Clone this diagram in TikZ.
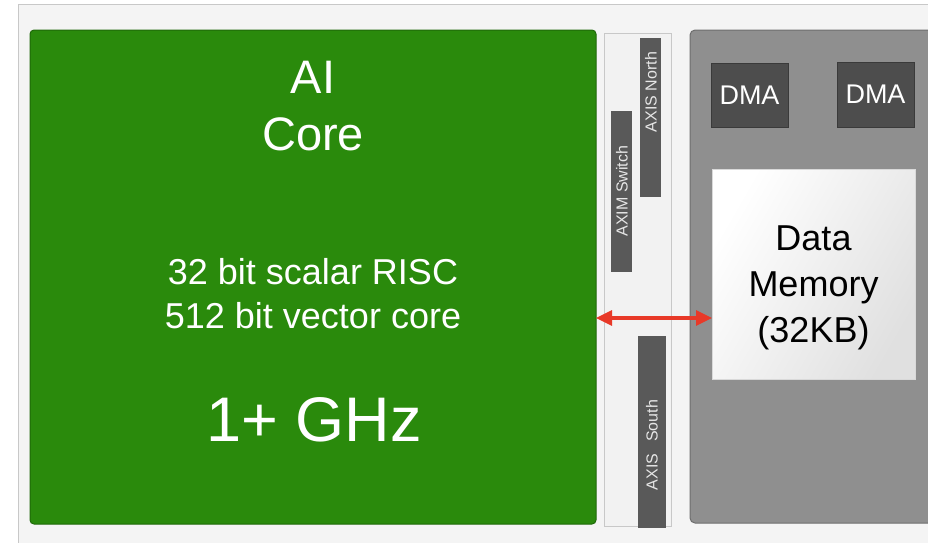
\documentclass[tikz,border=0pt]{standalone}
\usepackage{fontspec}
\setmainfont{Liberation Sans}
\usetikzlibrary{arrows.meta}
\definecolor{bgc}{RGB}{244,244,244}
\definecolor{framec}{RGB}{200,200,200}
\definecolor{greenc}{RGB}{42,138,12}
\definecolor{greend}{RGB}{30,105,8}
\definecolor{stripc}{RGB}{242,242,242}
\definecolor{barc}{RGB}{89,89,89}
\definecolor{grayc}{RGB}{143,143,143}
\definecolor{grayd}{RGB}{110,110,110}
\definecolor{dmac}{RGB}{77,77,77}
\definecolor{dmad}{RGB}{58,58,58}
\definecolor{redc}{RGB}{232,57,40}
\definecolor{bartext}{RGB}{230,230,230}
\tikzset{
  box/.style={draw, inner sep=0pt, outer sep=0pt, line width=1pt},
  greenbox/.style={box, fill=greenc, draw=greend, rounded corners=4pt},
  stripbox/.style={box, fill=stripc, draw=framec},
  barbox/.style={box, fill=barc, draw=barc},
  graybox/.style={box, fill=grayc, draw=grayd, rounded corners=5pt},
  dmabox/.style={box, fill=dmac, draw=dmad, text=white, font=\fontsize{27}{32}\selectfont},
  membox/.style={box, draw=white!85!black, left color=white, right color=white!88!black, shading angle=60},
  memtxt/.style={align=center, inner sep=0pt, font=\fontsize{36}{46}\selectfont},
  bartxt/.style={text=bartext, rotate=90, font=\fontsize{16}{18}\selectfont, inner sep=0pt},
  wtxt/.style={text=white, align=center, inner sep=0pt},
}
\begin{document}
\begin{tikzpicture}[x=1pt,y=-1pt]
\useasboundingbox (0,0) rectangle (928,542);
\fill[white] (0,0) rectangle (928,542);
\draw[fill=bgc, draw=framec, line width=1pt] (18,4) rectangle (960,580);
% green core
\node[greenbox, minimum width=566pt, minimum height=494pt] (core) at (313,277) {};
\node[wtxt, font=\fontsize{47}{57}\selectfont] (ai) at (313,106) {AI\\Core};
\node[wtxt, font=\fontsize{36}{44}\selectfont] (spec) at (313,294) {32 bit scalar RISC\\512 bit vector core};
\node[wtxt, font=\fontsize{63}{70}\selectfont] (ghz) at (314,420) {1+ GHz};
% middle strip
\node[stripbox, minimum width=67pt, minimum height=493pt] (strip) at (637.5,279.5) {};
\node[barbox, minimum width=20pt, minimum height=158pt] (north) at (650,117) {};
\node[bartxt] (northt) at (651,92) {AXIS North};
\node[barbox, minimum width=20pt, minimum height=160pt] (axim) at (621,191) {};
\node[bartxt] (aximt) at (622,191) {AXIM Switch};
\node[barbox, minimum width=27pt, minimum height=191pt] (south) at (651.5,431.5) {};
\node[bartxt] (southt) at (652,445) {AXIS\hspace{12pt}South};
% memory tile
\node[graybox, minimum width=260pt, minimum height=493pt, anchor=north west] (tile) at (690,30) {};
\node[dmabox, minimum width=77pt, minimum height=64pt] (dma1) at (749.5,95) {DMA};
\node[dmabox, minimum width=77pt, minimum height=65pt] (dma2) at (875.5,94.5) {DMA};
\node[membox, minimum width=203pt, minimum height=210pt] (mem) at (813.5,274) {};
\node[memtxt] (memt) at (813.5,288) {Data\\Memory\\(32KB)};
% arrow
\coordinate (ay) at (0,318);
\draw[redc, line width=3.2pt, {Triangle[length=16pt,width=15pt]}-{Triangle[length=16pt,width=15pt]}] (core.east |- ay) -- (mem.west |- ay);
\end{tikzpicture}
\end{document}
